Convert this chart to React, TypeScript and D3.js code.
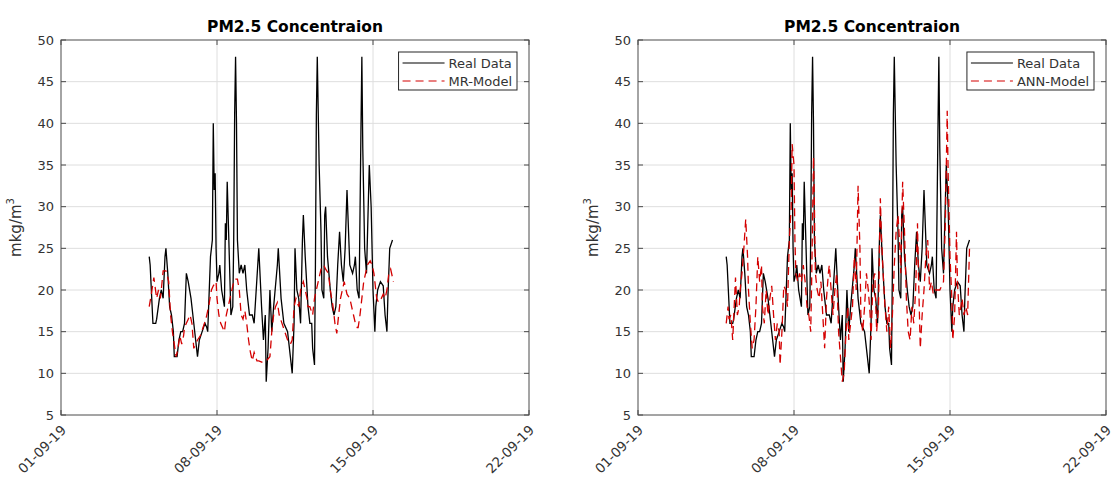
import React, { useEffect, useRef } from "react";
import * as d3 from "d3";

// [hours since 01-09-19 00:00, value]
const realData: [number, number][] = [
  [95, 24], [96, 23], [99, 16], [102, 16], [103, 16.5], [106, 19], [108, 20], [110, 19], [112, 24], [113, 25],
  [115, 22], [117, 18], [119, 17], [121, 15], [122, 12], [125, 12], [127, 14], [129, 15], [131, 15], [133, 16],
  [135, 22], [137, 21], [140, 19], [142, 17], [145, 14], [147, 12], [149, 14], [152, 15], [155, 16], [157, 15.5],
  [158, 15], [161, 24], [163, 26], [164, 40], [165, 32], [166, 34], [167, 25], [168, 21], [170, 22], [171, 23],
  [173, 20], [176, 18], [177, 28], [178, 26], [179, 33], [181, 25], [183, 17], [185, 18], [186, 26], [187, 41],
  [188, 48], [189, 40], [190, 26], [192, 22], [194, 23], [196, 22], [198, 23], [200, 20], [203, 17], [206, 17],
  [208, 16], [213, 25], [216, 18], [218, 14], [220, 17], [221, 9], [223, 13], [225, 20], [227, 15], [229, 18],
  [233, 23], [234, 25], [237, 19], [240, 16], [244, 15], [247, 12], [249, 10], [251, 16], [252, 25], [254, 20],
  [256, 19], [258, 16], [260, 26], [261, 29], [263, 24], [266, 18], [268, 16], [270, 16], [271, 13], [273, 11],
  [274, 23], [275, 41], [276, 48], [278, 35], [280, 27], [281, 20], [283, 19], [284, 29], [285, 30], [287, 24],
  [290, 20], [292, 18], [294, 17], [296, 18], [298, 23], [300, 27], [302, 23], [304, 21], [306, 25], [308, 32],
  [309, 29], [311, 23], [314, 22], [316, 23], [317, 24], [319, 20], [321, 19], [323, 39], [324, 48], [325, 37],
  [327, 25], [329, 22], [332, 35], [334, 30], [336, 20], [338, 15], [339, 18], [341, 20], [344, 21], [347, 20.5],
  [349, 17], [351, 15], [352, 19], [353, 22], [354, 25], [357, 26],
];

const mrModel: [number, number][] = [
  [95, 18], [98, 20], [100, 21.5], [103, 19], [105, 20], [107, 19], [108, 20], [110, 22.3], [113, 22.3], [114, 22],
  [116, 21], [118, 17], [120, 15], [122, 13.5], [124, 12], [126, 13], [128, 14.5], [130, 13.5], [132, 14.5], [133, 15.5],
  [135, 16], [137, 16.5], [139, 17], [141, 16], [143, 13], [145, 13.5], [147, 14], [150, 14.5], [153, 15.5], [156, 16.5],
  [159, 18], [162, 20], [164, 20.5], [167, 21], [168, 19], [170, 17], [172, 16], [174, 15.5], [176, 15], [178, 17],
  [180, 18], [182, 19], [185, 20.5], [187, 21.3], [190, 21.3], [192, 20], [194, 17], [196, 16.5], [198, 17.5], [200, 16],
  [202, 14], [204, 12.5], [206, 11.5], [208, 12.5], [211, 11.5], [213, 11.5], [217, 11.3], [221, 11.5], [225, 12], [227, 15],
  [229, 17], [231, 18], [233, 18.5], [235, 17], [238, 16], [241, 15], [244, 14], [247, 13.5], [249, 14], [251, 18],
  [253, 19], [256, 18], [258, 20], [261, 21], [263, 20], [265, 19], [266, 18], [268, 18], [271, 17], [273, 19],
  [275, 20], [277, 21], [280, 22.5], [283, 23], [285, 22.5], [288, 22], [290, 20], [293, 18], [295, 16], [297, 14.8],
  [299, 17], [301, 19], [303, 20], [305, 21], [307, 20], [308, 19.5], [311, 19], [313, 18], [315, 17], [317, 16],
  [319, 15.5], [320, 15.5], [322, 17], [324, 19], [326, 21], [328, 22], [330, 23], [333, 23.5], [335, 23], [337, 22],
  [339, 20], [340, 19], [342, 18.5], [345, 19], [347, 19.5], [349, 19], [351, 20], [353, 22], [355, 22.5], [358, 21],
];

const annModel: [number, number][] = [
  [95, 16], [97, 18], [98, 16.5], [100, 17], [102, 14], [104, 19], [105, 21.5], [107, 17], [109, 18], [110, 20],
  [112, 22], [114, 25], [116, 28.5], [118, 24], [119, 20], [121, 16], [123, 13], [125, 14], [127, 18], [129, 24],
  [131, 21], [133, 23], [134, 18], [136, 16], [138, 20], [140, 17], [142, 19], [144, 20.5], [146, 17], [148, 14],
  [150, 16], [152, 15], [153, 11], [155, 15], [157, 20.5], [159, 20], [161, 18], [163, 26], [165, 30], [166, 37.5],
  [168, 35], [169, 26], [170, 22], [172, 21], [174, 22], [176, 21], [178, 23], [180, 21], [182, 18], [184, 17],
  [186, 15], [187, 21], [189, 36], [190, 30], [191, 22], [193, 20], [195, 19], [197, 21], [199, 17], [201, 13],
  [203, 19], [205, 22], [206, 23], [208, 20], [210, 17], [212, 20], [214, 22], [216, 15], [218, 12], [220, 9],
  [222, 10], [224, 15], [226, 18], [227, 14], [229, 16], [231, 18], [233, 24], [235, 20], [237, 32.5], [239, 25],
  [240, 17], [242, 15], [244, 18], [246, 22], [248, 20], [250, 17], [251, 14], [253, 21], [255, 22], [257, 15],
  [259, 18], [261, 31], [262, 27], [264, 22], [266, 18], [268, 15], [270, 18], [272, 13], [274, 17], [276, 23],
  [278, 27], [280, 29], [282, 25], [283, 22], [285, 33], [287, 27], [289, 19], [291, 15], [293, 14], [295, 18],
  [297, 16], [299, 20], [301, 28], [302, 22], [304, 13], [306, 17], [308, 20], [310, 24], [312, 26], [314, 20],
  [316, 21], [318, 19.5], [320, 20], [322, 20], [323, 20], [325, 20], [327, 20.5], [329, 21], [331, 28], [333, 41.5],
  [334, 34], [335, 29], [336, 24], [338, 19], [339, 14], [341, 17], [343, 27], [344, 21], [346, 17], [347, 17.5],
  [349, 19], [351, 17], [353, 18], [355, 17], [357, 25],
];

const xTickDates = [new Date(2019, 8, 1), new Date(2019, 8, 8), new Date(2019, 8, 15), new Date(2019, 8, 22)];
const yTicks = [5, 10, 15, 20, 25, 30, 35, 40, 45, 50];
const titleText = "PM2.5 Concentraion";
const seriesNames = ["Real Data", "MR-Model", "ANN-Model"];

export default function App() {
  const svgRef = useRef<SVGSVGElement>(null);

  useEffect(() => {
    const width = 1115, height = 478;
    const svg = d3.select(svgRef.current);
    svg.selectAll("*").remove();
    svg.attr("width", width).attr("height", height);

    const font = "'DejaVu Sans', sans-serif";
    const axisColor = "#4a4a4a";
    const textColor = "#333";
    const top = 40, plotH = 375, plotW = 468;
    const start = xTickDates[0];
    const toDate = (h: number) => d3.timeHour.offset(start, h);

    const panels = [
      { left: 61, model: mrModel, name: seriesNames[1] },
      { left: 638, model: annModel, name: seriesNames[2] },
    ];

    panels.forEach(p => {
      const x = d3.scaleTime()
        .domain([xTickDates[0], xTickDates[3]])
        .range([p.left, p.left + plotW]);
      const y = d3.scaleLinear().domain([5, 50]).range([top + plotH, top]);
      const g = svg.append("g");

      // grid
      g.selectAll(".hg").data(yTicks.slice(1, -1)).join("line")
        .attr("x1", p.left).attr("x2", p.left + plotW)
        .attr("y1", d => y(d)).attr("y2", d => y(d))
        .attr("stroke", "#dedede").attr("stroke-width", 1);
      g.selectAll(".vg").data(xTickDates.slice(1, -1)).join("line")
        .attr("x1", d => x(d)).attr("x2", d => x(d))
        .attr("y1", top).attr("y2", top + plotH)
        .attr("stroke", "#dedede").attr("stroke-width", 1);

      // lines
      const line = d3.line<[number, number]>()
        .x(d => x(toDate(d[0])))
        .y(d => y(d[1]));

      g.append("path").datum(realData)
        .attr("d", line)
        .attr("fill", "none").attr("stroke", "#000").attr("stroke-width", 1.3);
      g.append("path").datum(p.model)
        .attr("d", line)
        .attr("fill", "none").attr("stroke", "#d40000").attr("stroke-width", 1.3)
        .attr("stroke-dasharray", "8,5");

      // box
      g.append("rect")
        .attr("x", p.left).attr("y", top).attr("width", plotW).attr("height", plotH)
        .attr("fill", "none").attr("stroke", axisColor).attr("stroke-width", 1);

      // ticks (inward)
      xTickDates.forEach(d => {
        g.append("line").attr("x1", x(d)).attr("x2", x(d))
          .attr("y1", top + plotH).attr("y2", top + plotH - 5).attr("stroke", axisColor);
        g.append("line").attr("x1", x(d)).attr("x2", x(d))
          .attr("y1", top).attr("y2", top + 5).attr("stroke", axisColor);
      });
      yTicks.forEach(v => {
        g.append("line").attr("x1", p.left).attr("x2", p.left + 5)
          .attr("y1", y(v)).attr("y2", y(v)).attr("stroke", axisColor);
        g.append("line").attr("x1", p.left + plotW).attr("x2", p.left + plotW - 5)
          .attr("y1", y(v)).attr("y2", y(v)).attr("stroke", axisColor);
      });

      // tick labels
      g.selectAll(".yl").data(yTicks).join("text")
        .attr("x", p.left - 7).attr("y", d => y(d) + 4.5)
        .attr("text-anchor", "end")
        .attr("font-family", font).attr("font-size", 13).attr("fill", textColor)
        .text(d => String(d));

      const fmt = d3.timeFormat("%d-%m-%y");
      g.selectAll(".xl").data(xTickDates).join("text")
        .attr("transform", d => `translate(${x(d) + 6},${top + plotH + 16}) rotate(-45)`)
        .attr("text-anchor", "end")
        .attr("font-family", font).attr("font-size", 13.5).attr("fill", textColor)
        .text(d => fmt(d));

      // y label
      const yl = g.append("text")
        .attr("transform", `translate(${p.left - 40},${top + plotH / 2}) rotate(-90)`)
        .attr("text-anchor", "middle")
        .attr("font-family", font).attr("font-size", 15).attr("fill", textColor);
      yl.append("tspan").text("mkg/m");
      yl.append("tspan").attr("font-size", 10).attr("dy", -7).text("3");

      // title
      g.append("text")
        .attr("x", p.left + plotW / 2).attr("y", 32)
        .attr("text-anchor", "middle")
        .attr("font-family", font).attr("font-size", 15.5).attr("font-weight", "bold")
        .attr("fill", "#000")
        .text(titleText);

      // legend
      const lg = g.append("g");
      const t1 = lg.append("text").attr("y", 68)
        .attr("font-family", font).attr("font-size", 13).attr("fill", textColor)
        .text(seriesNames[0]);
      const t2 = lg.append("text").attr("y", 86)
        .attr("font-family", font).attr("font-size", 13).attr("fill", textColor)
        .text(p.name);
      const tw = Math.max((t1.node() as SVGTextElement).getComputedTextLength(),
        (t2.node() as SVGTextElement).getComputedTextLength());
      const boxW = 50 + tw + 5;
      const bx = p.left + plotW - 12 - boxW;
      t1.attr("x", bx + 50);
      t2.attr("x", bx + 50);
      lg.insert("rect", "text")
        .attr("x", bx).attr("y", 52).attr("width", boxW).attr("height", 38)
        .attr("fill", "#fff").attr("stroke", "#262626").attr("stroke-width", 1);
      lg.append("line").attr("x1", bx + 4).attr("x2", bx + 46)
        .attr("y1", 63).attr("y2", 63).attr("stroke", "#000").attr("stroke-width", 1.2);
      lg.append("line").attr("x1", bx + 4).attr("x2", bx + 46)
        .attr("y1", 81).attr("y2", 81).attr("stroke", "#d40000").attr("stroke-width", 1.2)
        .attr("stroke-dasharray", "8,5");
    });
  }, []);

  return (
    <div style={{ position: "absolute", left: 0, top: 0, background: "#fff" }}>
      <svg ref={svgRef} style={{ display: "block" }} />
    </div>
  );
}
